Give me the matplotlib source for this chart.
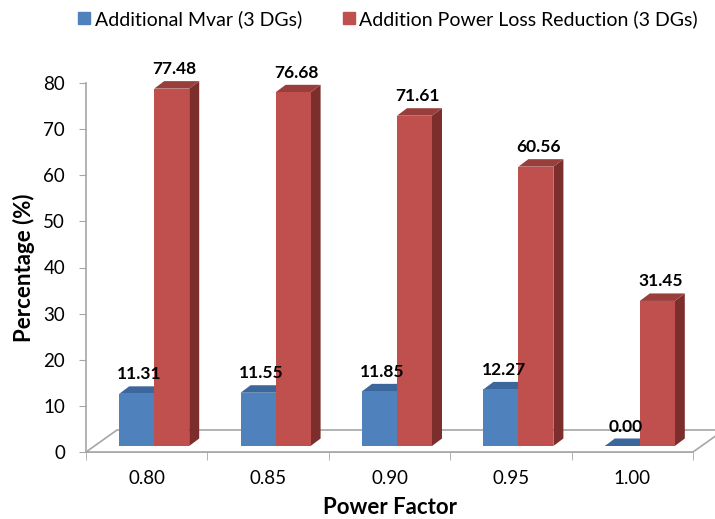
import numpy as np
import matplotlib.pyplot as plt
from matplotlib.patches import Polygon
from matplotlib.lines import Line2D

plt.rcParams["font.family"] = ["Lato", "DejaVu Sans"]

power_factor = ["0.80", "0.85", "0.90", "0.95", "1.00"]
mvar = [11.31, 11.55, 11.85, 12.27, 0.00]
loss_reduction = [77.48, 76.68, 71.61, 60.56, 31.45]

series = [
    ("Additional Mvar (3 DGs)", mvar, ("#4F81BD", "#3C679C", "#2E5077")),
    ("Addition Power Loss Reduction (3 DGs)", loss_reduction, ("#C0504D", "#9A3E3C", "#7B2E2C")),
]

W, H = 715, 519
fig = plt.figure(figsize=(W / 100, H / 100), dpi=100)
x0, x1, y0, y1 = 86, 693, 452, 83
ax = fig.add_axes([x0 / W, 1 - y0 / H, (x1 - x0) / W, (y0 - y1) / H])
ax.set_xlim(-0.5, len(power_factor) - 0.5)
ax.set_ylim(0, 80)

# pixel -> data unit helpers for the fake 3D offsets
px_x = (len(power_factor)) / (x1 - x0)
px_y = 80 / (y0 - y1)

# floor outline
fdx, fdy = 31 * px_x, 22 * px_y
xl, xr = -0.5, len(power_factor) - 0.5
floor = Polygon([(xl, 0), (xr, 0), (xr + fdx, fdy), (xl + fdx, fdy)],
                closed=True, facecolor="white", edgecolor="#A6A6A6", lw=1.2,
                clip_on=False, zorder=1)
ax.add_patch(floor)

# bars
bar_w = 35 * px_x
sx, sy = 7.5 * px_x, 6 * px_y      # front plane shift
ddx, ddy = 10 * px_x, 7.5 * px_y   # bar depth
z = 2
for i in range(len(power_factor)):
    for k, (name, vals, (cf, ct, cs)) in enumerate(series):
        v = vals[i]
        left = i - bar_w + k * bar_w + sx
        right = left + bar_w
        b = sy
        t = sy + v
        front = Polygon([(left, b), (right, b), (right, t), (left, t)],
                        facecolor=cf, edgecolor="none", zorder=z, clip_on=False)
        top = Polygon([(left, t), (right, t), (right + ddx, t + ddy), (left + ddx, t + ddy)],
                      facecolor=ct, edgecolor="none", zorder=z, clip_on=False)
        side = Polygon([(right, b), (right + ddx, b + ddy), (right + ddx, t + ddy), (right, t)],
                       facecolor=cs, edgecolor="none", zorder=z, clip_on=False)
        for p in (side, top, front):
            ax.add_patch(p)
        z += 1
        ax.annotate(f"{v:.2f}", xy=((left + right) / 2 + ddx * 0.3, t), xytext=(0, 14),
                    textcoords="offset points", ha="center", va="center",
                    fontsize=12.5, fontweight="bold", color="black", zorder=50,
                    annotation_clip=False)

# axes styling
for s in ("top", "right"):
    ax.spines[s].set_visible(False)
for s in ("left", "bottom"):
    ax.spines[s].set_color("#A6A6A6")
    ax.spines[s].set_linewidth(1.2)
ax.spines["bottom"].set_zorder(0)
ax.set_yticks(np.arange(0, 81, 10))
ax.set_xticks(range(len(power_factor)))
ax.set_xticklabels(power_factor)
ax.set_xticks(np.arange(-0.5, len(power_factor), 1), minor=True)
ax.tick_params(axis="y", length=5, color="#A6A6A6", labelsize=13.5, pad=10)
ax.tick_params(axis="x", which="major", length=0, labelsize=13.5, pad=13)
ax.tick_params(axis="x", which="minor", length=6, color="#A6A6A6")
ax.patch.set_alpha(0)

ax.set_ylabel("Percentage (%)", fontsize=16, fontweight="bold", labelpad=6)
ax.set_xlabel("Power Factor", fontsize=16, fontweight="bold", labelpad=7)

handles = [Line2D([], [], marker="s", linestyle="none", markersize=9,
                  markerfacecolor=c[0], markeredgecolor=c[0]) for _, _, c in series]
fig.legend(handles, [s[0] for s in series], loc="center", ncol=2, frameon=False,
           bbox_to_anchor=(387 / W, 1 - 19 / H), fontsize=14, handletextpad=0.15,
           columnspacing=2.0, handlelength=0.8, borderaxespad=0, borderpad=0)

fig.savefig("out.png", dpi=100)
